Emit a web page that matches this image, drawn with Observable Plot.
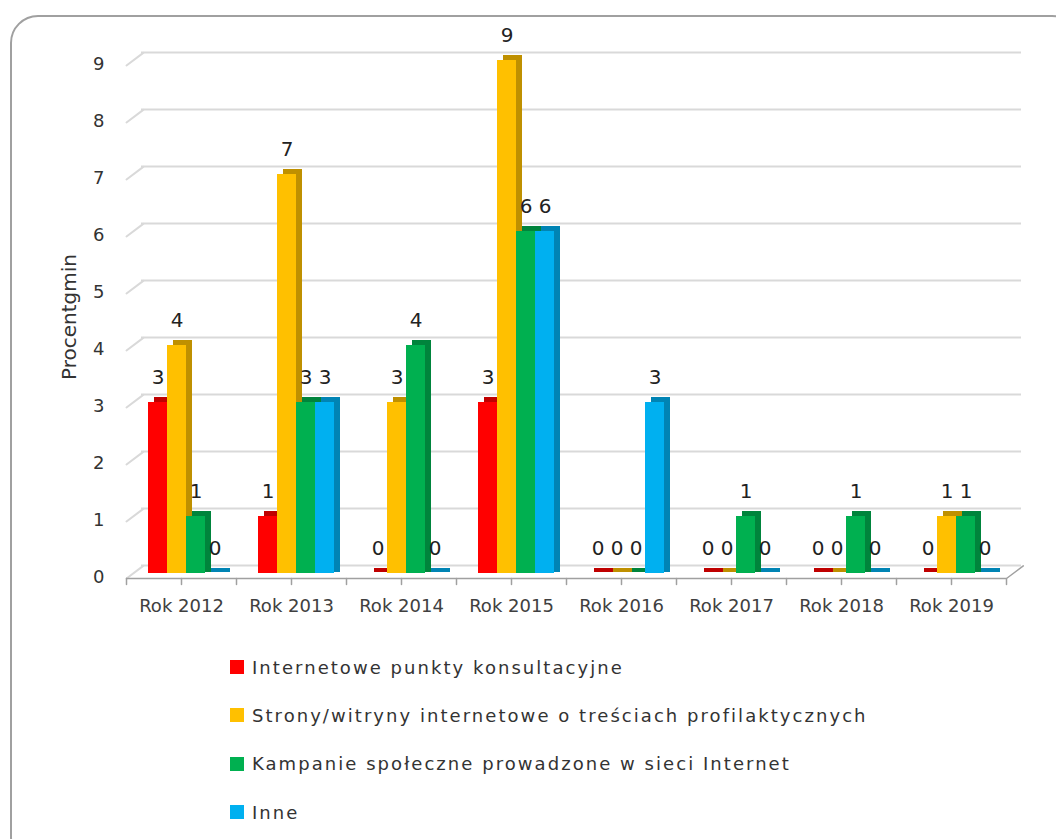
<!DOCTYPE html>
<html>
<head>
<meta charset="utf-8">
<script src="https://cdn.jsdelivr.net/npm/d3@7"></script>
<script src="https://cdn.jsdelivr.net/npm/@observablehq/plot@0.6"></script>
<style>
  html, body { margin: 0; padding: 0; background: #fff; overflow: hidden; }
  #wrap { position: relative; width: 1056px; height: 839px; overflow: hidden; font-family: "DejaVu Sans", sans-serif; }
  #border { position: absolute; left: 10px; top: 15px; width: 1070px; height: 850px; border: 2px solid #a0a0a0; border-radius: 28px; box-sizing: border-box; }
  #chart { position: absolute; left: 0; top: 0; }
  #legend { position: absolute; left: 230px; top: 643px; }
  .row { display: flex; align-items: center; height: 48.3px; }
  .sw { width: 14px; height: 14px; margin-right: 8px; }
  .lab { font-size: 18px; letter-spacing: 2.05px; color: #333; }
</style>
</head>
<body>
<div id="wrap">
  <div id="border"></div>
  <div id="chart"></div>
  <div id="legend"></div>
</div>
<script>
const years = ["Rok 2012", "Rok 2013", "Rok 2014", "Rok 2015", "Rok 2016", "Rok 2017", "Rok 2018", "Rok 2019"];
const seriesNames = [
  "Internetowe punkty konsultacyjne",
  "Strony/witryny internetowe o treściach profilaktycznych",
  "Kampanie społeczne prowadzone w sieci Internet",
  "Inne"
];
const seriesColors = ["#FF0000", "#FFC000", "#00B050", "#00B0F0"];
const vInternetowe = [3, 1, 0, 3, 0, 0, 0, 0];
const vStrony      = [4, 7, 3, 9, 0, 0, 0, 1];
const vKampanie    = [1, 3, 4, 6, 0, 1, 1, 1];
const vInne        = [0, 3, 0, 6, 3, 0, 0, 0];
const yTicks = [0, 1, 2, 3, 4, 5, 6, 7, 8, 9];
const yLabel = "Procentgmin";

const seriesValues = [vInternetowe, vStrony, vKampanie, vInne];
const data = [];
years.forEach((year, i) => {
  seriesNames.forEach((s, j) => data.push({year, series: s, value: seriesValues[j][i]}));
});

const gridColor = "#d9d9d9";
const axisColor = "#a0a0a0";
const first = () => years[0];
const last = () => years[years.length - 1];

const chart = Plot.plot({
  width: 1056,
  height: 625,
  marginTop: 60,
  marginBottom: 52,
  marginLeft: 125,
  marginRight: 49,
  style: {fontFamily: "DejaVu Sans", fontSize: "18px", background: "transparent", overflow: "visible"},
  fx: {domain: years, paddingInner: 0, paddingOuter: 0, axis: null, label: null},
  x: {domain: seriesNames, paddingInner: 0, paddingOuter: 0.78, axis: null, label: null},
  y: {domain: [0, 9], axis: null, label: null},
  color: {domain: seriesNames, range: seriesColors},
  marks: [
    // back wall gridlines
    Plot.ruleY(yTicks, {dx: 15, dy: -8, stroke: gridColor, strokeWidth: 2}),
    // side-wall diagonal stubs
    Plot.vector(yTicks, {fx: first, y: d => d, frameAnchor: "left", anchor: "start", length: 21, rotate: 53, dy: 5, r: 0, stroke: gridColor, strokeWidth: 2}),
    // floor right edge
    Plot.vector([0], {fx: last, y: d => d, frameAnchor: "right", anchor: "start", length: 21, rotate: 53, dy: 5, r: 0, stroke: axisColor, strokeWidth: 1.5}),
    // front axis line
    Plot.ruleY([0], {dy: 5, stroke: axisColor, strokeWidth: 1.5}),
    // ticks
    Plot.vector([0], {frameAnchor: "bottom-left", anchor: "start", length: 6, rotate: 180, dy: 5, r: 0, stroke: axisColor, strokeWidth: 1.5}),
    Plot.vector([0], {frameAnchor: "bottom", anchor: "start", length: 6, rotate: 180, dy: 5, r: 0, stroke: axisColor, strokeWidth: 1.5}),
    Plot.vector([0], {fx: last, frameAnchor: "bottom-right", anchor: "start", length: 6, rotate: 180, dy: 5, r: 0, stroke: axisColor, strokeWidth: 1.5}),
    // 3D depth faces
    Plot.barY(data, {fx: "year", x: "series", y: "value", fill: "series", dx: 11, dy: -5, insetBottom: -4}),
    Plot.barY(data, {fx: "year", x: "series", y: "value", fill: "black", fillOpacity: 0.25, dx: 11, dy: -5, insetBottom: -4}),
    // front faces
    Plot.barY(data, {fx: "year", x: "series", y: "value", fill: "series", dx: 5}),
    // value labels
    Plot.text(data, {fx: "year", x: "series", y: "value", text: d => String(d.value), dx: 5, dy: -25, fontSize: 20, fill: "#222"}),
    // axes
    Plot.axisY(yTicks, {anchor: "left", tickSize: 0, tickPadding: 22, dy: 4, fontSize: 18, fill: "#333", tickFormat: d => String(d), label: null}),
    Plot.axisFx({anchor: "bottom", tickSize: 0, tickPadding: 26, fontSize: 18, fill: "#404040", label: null}),
    Plot.text([yLabel], {fx: first, frameAnchor: "left", textAnchor: "middle", rotate: -90, dx: -57, fontSize: 20, fill: "#333"})
  ]
});
document.getElementById("chart").appendChild(chart);

const legend = document.getElementById("legend");
seriesNames.forEach((s, j) => {
  const row = document.createElement("div");
  row.className = "row";
  const sw = document.createElement("div");
  sw.className = "sw";
  sw.style.background = seriesColors[j];
  const lab = document.createElement("span");
  lab.className = "lab";
  lab.textContent = s;
  row.appendChild(sw);
  row.appendChild(lab);
  legend.appendChild(row);
});
</script>
</body>
</html>
